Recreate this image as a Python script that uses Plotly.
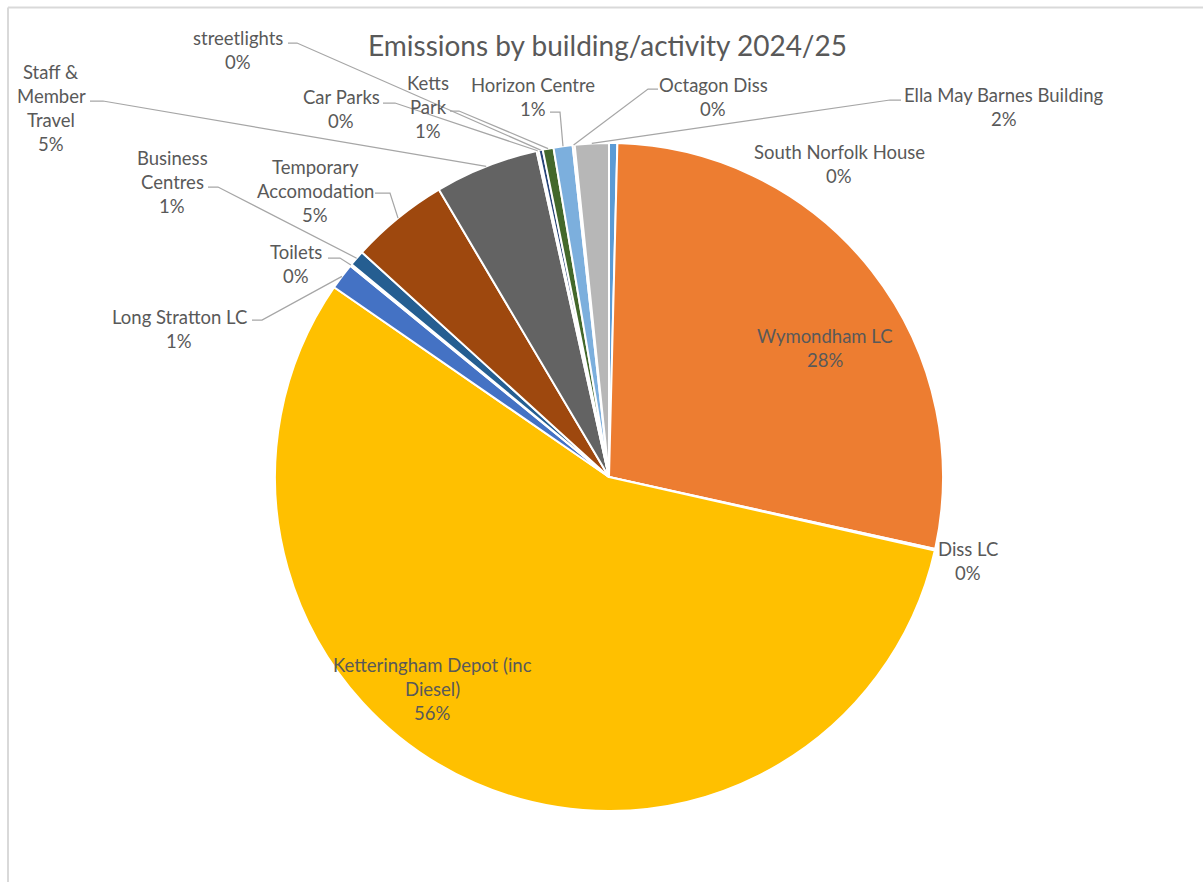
import math
import plotly.graph_objects as go

# ---------------- data ----------------
categories = ["South Norfolk House", "Wymondham LC", "Diss LC", "Ketteringham Depot (inc Diesel)",
              "Long Stratton LC", "Toilets", "Business Centres", "Temporary Accomodation",
              "Staff & Member Travel", "Car Parks", "streetlights", "Ketts Park",
              "Horizon Centre", "Octagon Diss", "Ella May Barnes Building"]
values = [0.40, 28.06, 0.08, 56.10, 1.28, 0.10, 0.75, 4.75, 5.03, 0.10, 0.20, 0.52, 0.92, 0.10, 1.64]
label_lines = [["South Norfolk House"], ["Wymondham LC"], ["Diss LC"], ["Ketteringham Depot (inc", "Diesel)"],
               ["Long Stratton LC"], ["Toilets"], ["Business", "Centres"], ["Temporary", "Accomodation"],
               ["Staff &", "Member", "Travel"], ["Car Parks"], ["streetlights"], ["Ketts", "Park"],
               ["Horizon Centre"], ["Octagon Diss"], ["Ella May Barnes Building"]]
title_text = "Emissions by building/activity 2024/25"

# ---------------- styles / layout ----------------
colors = ["#5B9BD5", "#ED7D31", "#A5A5A5", "#FFC000", "#4472C4", "#70AD47", "#255E91", "#9E480E",
          "#636363", "#997300", "#264478", "#43682B", "#7CAFDD", "#F1975A", "#B7B7B7"]
W, H = 1203, 882
CX, CY, R = 609, 477, 334
FONT = "Lato"
LABEL_SIZE = 18.5
TITLE_SIZE = 28
LINE_GAP = 24
LABEL_COLOR = "#595959"
LEADER_COLOR = "#A6A6A6"

# label block: (center x, first-line center y) in pixels
label_pos = [(839, 152), (825, 336), (968, 549), (432, 665), (179, 317), (296, 252), (172, 158),
             (315, 167), (51, 72), (341, 97), (238, 38), (428, 83), (533, 85), (713, 85), (1004, 95)]
# leader: (start point, elbow point) in pixels; None for no leader
leaders = [None, None, None, None,
           ((252, 320), (262, 320)), ((328, 258), (340, 258)), ((208, 187), (218, 187)),
           ((375, 193), (390, 193)), ((90, 101), (103, 101)), ((383, 103), (395, 103)),
           ((288, 43), (297, 43)), ((450, 111), (459, 111)), ((550, 112), (560, 112)),
           ((658, 89), (648, 89)), ((901, 100), (890, 100))]


def px(x):
    return x / W


def py(y):
    return 1 - y / H


total = sum(values)
pcts = [v / total * 100 for v in values]
pct_text = [f"{int(math.floor(p + 0.5))}%" for p in pcts]

# slice mid angles (clockwise from 12 o'clock)
mids = []
cum = 0.0
for v in values:
    mids.append((cum + v / 2) / total * 2 * math.pi)
    cum += v

fig = go.Figure()
fig.add_trace(go.Pie(
    labels=categories, values=values, sort=False, direction="clockwise", rotation=0,
    marker=dict(colors=colors, line=dict(color="white", width=2)),
    textinfo="none", hoverinfo="label+percent", showlegend=False,
    domain=dict(x=[px(CX - R), px(CX + R)], y=[py(CY + R), py(CY - R)]),
))

annotations = []
shapes = []
for i, lines in enumerate(label_lines):
    x0, y0 = label_pos[i]
    all_lines = lines + [pct_text[i]]
    for k, t in enumerate(all_lines):
        annotations.append(dict(
            x=px(x0), y=py(y0 + k * LINE_GAP), xref="paper", yref="paper", text=t,
            showarrow=False, xanchor="center", yanchor="middle",
            font=dict(family=FONT, size=LABEL_SIZE, color=LABEL_COLOR)))
    if leaders[i] is not None:
        (sx, sy), (ex, ey) = leaders[i]
        a = mids[i]
        tx = CX + R * math.sin(a)
        ty = CY - R * math.cos(a)
        path = f"M {px(sx)},{py(sy)} L {px(ex)},{py(ey)} L {px(tx)},{py(ty)}"
        shapes.append(dict(type="path", path=path, xref="paper", yref="paper",
                           line=dict(color=LEADER_COLOR, width=1.25)))

# title
annotations.append(dict(x=px(607), y=py(45), xref="paper", yref="paper", text=title_text,
                        showarrow=False, xanchor="center", yanchor="middle",
                        font=dict(family=FONT, size=TITLE_SIZE, color="#595959")))

# chart border (top and left visible)
shapes.append(dict(type="line", xref="paper", yref="paper", x0=px(8), y0=py(7.5), x1=1, y1=py(7.5),
                   line=dict(color="#D9D9D9", width=2)))
shapes.append(dict(type="line", xref="paper", yref="paper", x0=px(8), y0=py(7.5), x1=px(8), y1=0,
                   line=dict(color="#D9D9D9", width=2)))

fig.update_layout(
    width=W, height=H, margin=dict(l=0, r=0, t=0, b=0),
    paper_bgcolor="white", plot_bgcolor="white",
    annotations=annotations, shapes=shapes,
)
fig.write_html("out.html", config={"displayModeBar": False},
               post_script="document.body.style.margin='0px';document.body.style.overflow='hidden';")
